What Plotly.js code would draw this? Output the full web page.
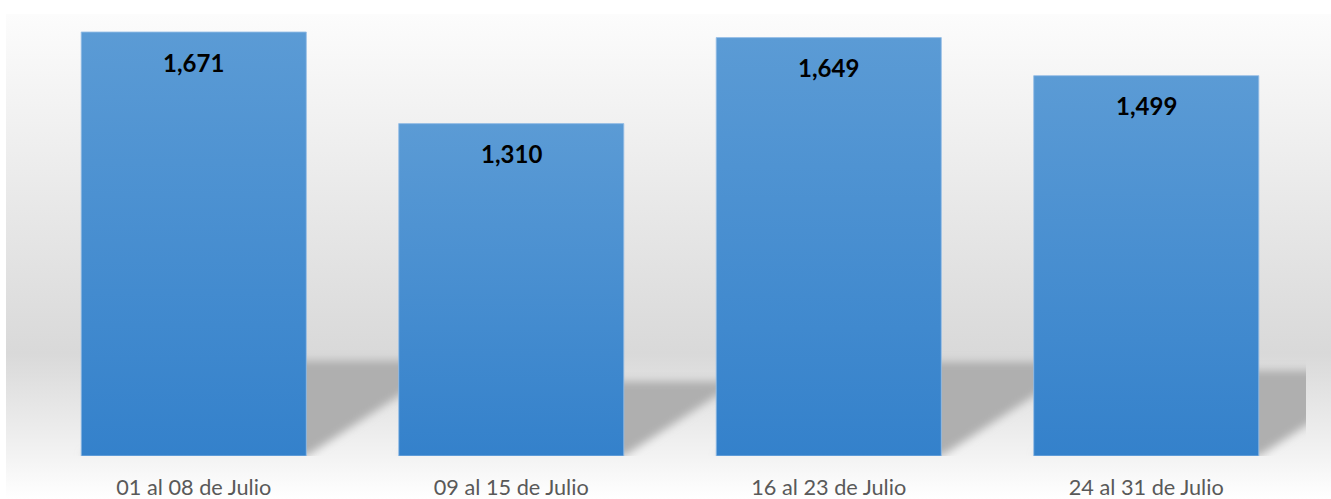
<!DOCTYPE html>
<html>
<head>
<meta charset="utf-8">
<script src="https://cdn.plot.ly/plotly-3.0.1.min.js"></script>
<style>
  html, body { margin: 0; padding: 0; background: #ffffff; }
  #chart { width: 1331px; height: 499px; }
</style>
</head>
<body>
<div id="chart"></div>
<script>
// ---- Data ----
const categories = ['01 al 08 de Julio', '09 al 15 de Julio', '16 al 23 de Julio', '24 al 31 de Julio'];
const values = [1671, 1310, 1649, 1499];
const labels = values.map(v => v.toLocaleString('en-US'));

const trace = {
  type: 'bar',
  x: categories,
  y: values,
  marker: { color: '#4a8fd1', line: { color: 'rgba(150,190,230,0.85)', width: 1 } },
  hoverinfo: 'skip'
};

const annotations = categories.map((c, i) => ({
  x: c, y: values[i], xref: 'x', yref: 'y',
  text: labels[i], showarrow: false,
  yanchor: 'middle', yshift: -30,
  font: { family: 'Lato, "Open Sans", sans-serif', size: 24, color: '#000000', weight: 'bold' }
}));

const layout = {
  width: 1331, height: 499,
  margin: { l: 35, r: 26, t: 14, b: 43, pad: 0 },
  paper_bgcolor: '#ffffff',
  plot_bgcolor: 'rgba(0,0,0,0)',
  bargap: 0.291,
  showlegend: false,
  xaxis: {
    type: 'category',
    showgrid: false, zeroline: false, showline: false, ticks: '',
    tickfont: { family: 'Lato, "Open Sans", sans-serif', size: 21.7, color: '#595959' },
    ticklabelstandoff: 16,
    fixedrange: true
  },
  yaxis: { visible: false, range: [0, 1742], fixedrange: true, showgrid: false, zeroline: false },
  annotations: annotations
};

const NS = 'http://www.w3.org/2000/svg';
function el(name, attrs) {
  const e = document.createElementNS(NS, name);
  for (const k in attrs) e.setAttribute(k, attrs[k]);
  return e;
}

Plotly.newPlot('chart', [trace], layout, { displayModeBar: false, staticPlot: true }).then(gd => {
  const svg = gd.querySelector('svg.main-svg');
  let defs = svg.querySelector('defs');
  if (!defs) { defs = el('defs', {}); svg.insertBefore(defs, svg.firstChild); }

  // bar gradient
  const bg = el('linearGradient', { id: 'barGrad', x1: '0', y1: '0', x2: '0', y2: '1' });
  bg.appendChild(el('stop', { offset: '0', 'stop-color': '#5b9bd5' }));
  bg.appendChild(el('stop', { offset: '1', 'stop-color': '#3481cb' }));
  defs.appendChild(bg);

  // chart area gradient
  const ag = el('linearGradient', { id: 'areaGrad', x1: '0', y1: '0', x2: '0', y2: '1' });
  [['0', '#fcfcfc'], ['0.2', '#f2f2f2'], ['0.70', '#d9d9d9'], ['0.92', '#f4f4f4'], ['1', '#ffffff']]
    .forEach(s => ag.appendChild(el('stop', { offset: s[0], 'stop-color': s[1] })));
  defs.appendChild(ag);

  // shadow blur
  const f = el('filter', { id: 'shBlur', x: '-20%', y: '-20%', width: '140%', height: '140%' });
  f.appendChild(el('feGaussianBlur', { stdDeviation: '4.5' }));
  defs.appendChild(f);

  const fl = gd._fullLayout;
  const plotL = fl.xaxis._offset, plotR = plotL + fl.xaxis._length;
  const plotT = fl.yaxis._offset, plotB = plotT + fl.yaxis._length;

  const cp = el('clipPath', { id: 'shClip' });
  cp.appendChild(el('rect', { x: 0, y: 0, width: plotR + 1, height: plotB }));
  defs.appendChild(cp);

  const g = el('g', { class: 'custom-bg' });
  g.appendChild(el('rect', { x: 6, y: plotT, width: 1331 - 6, height: 499 - plotT, fill: 'url(#areaGrad)' }));

  const sg = el('g', { 'clip-path': 'url(#shClip)' });
  const sgi = el('g', { filter: 'url(#shBlur)' });
  sg.appendChild(sgi);
  g.appendChild(sg);

  const svgRect = svg.getBoundingClientRect();
  const paths = gd.querySelectorAll('.trace.bars .point path');
  paths.forEach(p => {
    const r = p.getBoundingClientRect();
    const L = r.left - svgRect.left, R = r.right - svgRect.left;
    const T = r.top - svgRect.top, B = r.bottom - svgRect.top;
    const hs = 0.225 * (B - T);
    const dx = hs / 0.65;
    const pts = [[L, B], [R, B], [R + dx, B - hs], [L + dx, B - hs]];
    sgi.appendChild(el('polygon', { points: pts.map(q => q.join(',')).join(' '), fill: '#afafaf' }));
    p.style.fill = 'url(#barGrad)';
  });

  const cart = svg.querySelector('.cartesianlayer');
  svg.insertBefore(g, svg.querySelector('.bglayer') || cart);
});
</script>
</body>
</html>
